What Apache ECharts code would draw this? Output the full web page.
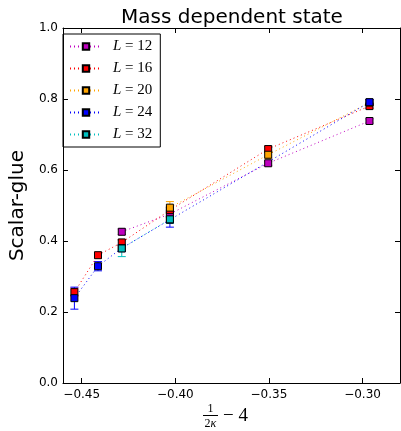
<!DOCTYPE html>
<html>
<head>
<meta charset="utf-8">
<script src="https://cdn.jsdelivr.net/npm/echarts@6/dist/echarts.min.js"></script>
<style>
  html, body { margin: 0; padding: 0; background: #fff; }
  #chart { width: 401px; height: 431px; }
</style>
</head>
<body>
<div id="chart"></div>
<script>
// x = 1/(2 kappa) - 4
const xValues = [-0.4539, -0.4413, -0.4286, -0.4029, -0.3504, -0.2963];
const xTicks = [-0.45, -0.40, -0.35, -0.30];
const yTicks = [0, 0.2, 0.4, 0.6, 0.8, 1.0];

const names = ['L=12', 'L=16', 'L=20', 'L=24', 'L=32'];
const colors = ['#bf00bf', '#ff0000', '#ffa500', '#0000ff', '#00bfbf'];

// values (null = no measurement)
const L12 = [null, null, 0.426, 0.476, 0.619, 0.738];
const L16 = [0.256, 0.360, 0.396, 0.487, 0.659, 0.780];
const L20 = [null, null, null, 0.494, 0.643, 0.790];
const L24 = [0.239, 0.329, 0.380, 0.460, null, 0.791];
const L32 = [null, null, 0.379, 0.461, null, null];

// errors
const E12 = [null, null, 0.008, 0.008, 0.006, 0.006];
const E16 = [0.011, 0.008, 0.008, 0.008, 0.008, 0.006];
const E20 = [null, null, null, 0.017, 0.010, 0.008];
const E24 = [0.031, 0.013, 0.010, 0.021, null, 0.008];
const E32 = [null, null, 0.023, 0.011, null, null];

const values = [L12, L16, L20, L24, L32];
const errors = [E12, E16, E20, E24, E32];

let chart = echarts.init(document.getElementById('chart'));

function errorSeries(i) {
    const data = [];
    for (let k = 0; k < xValues.length; k++) {
        if (values[i][k] == null) continue;
        data.push([xValues[k], values[i][k] - errors[i][k], values[i][k] + errors[i][k]]);
    }
    return {
        type: 'custom',
        name: 'err' + i,
        data: data,
        silent: true,
        renderItem: function (params, api) {
            const lo = api.coord([api.value(0), api.value(1)]);
            const hi = api.coord([api.value(0), api.value(2)]);
            const cap = 4;
            const style = { stroke: colors[i], lineWidth: 1 };
            return {
                type: 'group',
                children: [
                    { type: 'line', shape: { x1: lo[0], y1: lo[1], x2: hi[0], y2: hi[1] }, style: style },
                    { type: 'line', shape: { x1: lo[0] - cap, y1: lo[1], x2: lo[0] + cap, y2: lo[1] }, style: style },
                    { type: 'line', shape: { x1: hi[0] - cap, y1: hi[1], x2: hi[0] + cap, y2: hi[1] }, style: style }
                ]
            };
        }
    };
}

function lineSeries(i) {
    return {
        type: 'line',
        name: names[i],
        data: xValues.map((x, k) => [x, values[i][k]]),
        connectNulls: true,
        symbol: 'rect',
        symbolSize: 7,
        showAllSymbol: true,
        color: colors[i],
        itemStyle: { color: colors[i], borderColor: '#000', borderWidth: 1 },
        lineStyle: { color: colors[i], width: 1, type: [1, 3] },
        emphasis: { disabled: true },
        animation: false
    };
}

const series = [];
for (let i = 0; i < names.length; i++) {
    series.push(errorSeries(i));
    series.push(lineSeries(i));
}

const minus = v => (v < 0 ? '\u2212' : '') + Math.abs(v).toFixed(2);

let option = {
    animation: false,
    title: {
        text: 'Mass dependent state',
        left: 116,
        top: 3,
        textStyle: { fontFamily: 'DejaVu Sans', fontSize: 20, fontWeight: 'normal', color: '#000' }
    },
    legend: {
        data: names,
        orient: 'vertical',
        left: 63,
        top: 34,
        itemWidth: 32,
        itemHeight: 8,
        itemGap: 7,
        padding: [5, 8, 5, 6],
        borderColor: '#000',
        borderWidth: 1,
        selectedMode: false,
        formatter: name => '{i|L}{n| = ' + name.split('=')[1] + '}',
        textStyle: {
            padding: [0, 0, 0, 6],
            rich: {
                i: { fontFamily: 'Liberation Serif', fontStyle: 'italic', fontSize: 15, color: '#000' },
                n: { fontFamily: 'Liberation Serif', fontSize: 15, color: '#000' }
            }
        }
    },
    grid: { left: 57, right: 1, top: 28, bottom: 48 },
    xAxis: [
        {
            type: 'value', min: -0.46, max: -0.28, position: 'bottom',
            axisLine: { onZero: false, lineStyle: { color: '#000', width: 1 } },
            axisTick: { inside: true, length: 5, customValues: xTicks, lineStyle: { color: '#000' } },
            axisLabel: { customValues: xTicks, formatter: minus, color: '#000', fontFamily: 'DejaVu Sans', fontSize: 12, margin: 6 },
            splitLine: { show: false }
        },
        {
            type: 'value', min: -0.46, max: -0.28, position: 'top',
            axisLine: { onZero: false, lineStyle: { color: '#000', width: 1 } },
            axisTick: { inside: true, length: 5, customValues: xTicks, lineStyle: { color: '#000' } },
            axisLabel: { show: false },
            splitLine: { show: false }
        }
    ],
    yAxis: [
        {
            type: 'value', min: 0, max: 1, interval: 0.2, position: 'left',
            name: 'Scalar-glue', nameLocation: 'middle', nameGap: 30,
            nameTextStyle: { fontFamily: 'DejaVu Sans', fontSize: 20, color: '#000' },
            axisLine: { show: true, lineStyle: { color: '#000', width: 1 } },
            axisTick: { inside: true, length: 5, lineStyle: { color: '#000' } },
            axisLabel: { formatter: v => v.toFixed(1), color: '#000', fontFamily: 'DejaVu Sans', fontSize: 12, margin: 5 },
            splitLine: { show: false }
        },
        {
            type: 'value', min: 0, max: 1, interval: 0.2, position: 'right',
            axisLine: { show: true, lineStyle: { color: '#000', width: 1 } },
            axisTick: { inside: true, length: 5, lineStyle: { color: '#000' } },
            axisLabel: { show: false },
            splitLine: { show: false }
        }
    ],
    graphic: [
        { type: 'text', x: 210.5, y: 409, style: { text: '1', font: '12px "Liberation Serif"', fill: '#000', align: 'center', verticalAlign: 'middle' } },
        { type: 'line', shape: { x1: 203, y1: 415.5, x2: 218, y2: 415.5 }, style: { stroke: '#000', lineWidth: 1 } },
        { type: 'text', x: 210.5, y: 424, style: {
            text: '{n|2}{i|\u03ba}', align: 'center', verticalAlign: 'middle',
            rich: {
                n: { fontFamily: 'Liberation Serif', fontSize: 12, fill: '#000' },
                i: { fontFamily: 'Liberation Serif', fontStyle: 'italic', fontSize: 12, fill: '#000' }
            }
        } },
        { type: 'text', x: 223, y: 416, style: { text: '\u2212 4', font: '19px "Liberation Serif"', fill: '#000', align: 'left', verticalAlign: 'middle' } }
    ],
    series: series
};

chart.setOption(option);
</script>
</body>
</html>
